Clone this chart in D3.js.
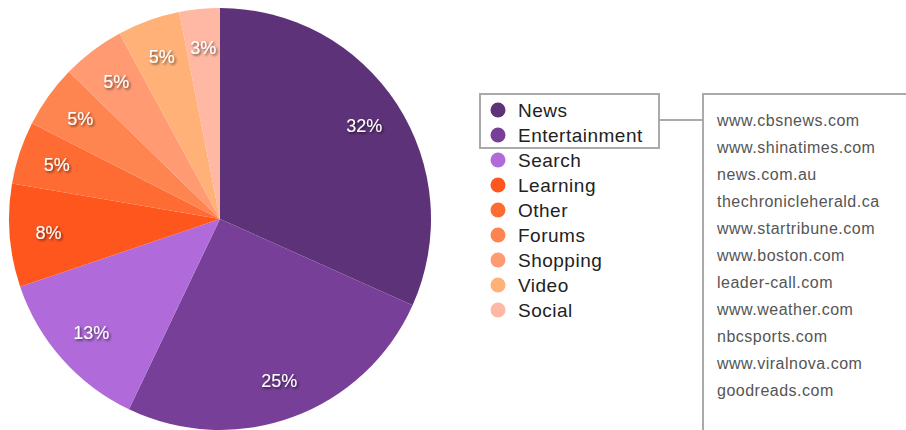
<!DOCTYPE html>
<html>
<head>
  <meta charset="utf-8">
  <title>Traffic by category</title>
  <script src="https://d3js.org/d3.v7.min.js"></script>
  <style>
    body { margin:0; background:#fff; }
    svg { display:block; }
  </style>
</head>
<body>
  <script>
    var w = 906;
    var h = 430;

    var categories = ["News","Entertainment","Search","Learning","Other","Forums","Shopping","Video","Social"];
    var shares = [31.7, 25.4, 12.7, 7.9, 4.8, 4.8, 4.8, 4.8, 3.1];
    var colors = ["#5e3278","#773f97","#b06ad9","#ff561e","#ff6c33","#ff8550","#ff9a73","#ffb178","#ffb8a3"];
    var newsSites = ["www.cbsnews.com","www.shinatimes.com","news.com.au","thechronicleherald.ca",
      "www.startribune.com","www.boston.com","leader-call.com","www.weather.com",
      "nbcsports.com","www.viralnova.com","goodreads.com"];

    var data = categories.map(function(c,i){ return {name:c, value:shares[i], color:colors[i]}; });

    var svg = d3.select("body").append("svg").attr("width",w).attr("height",h);

    var defs = svg.append("defs");
    var sh = defs.append("filter").attr("id","tshadow").attr("x","-20%").attr("y","-30%").attr("width","140%").attr("height","160%");
    sh.append("feDropShadow").attr("dx",1.5).attr("dy",1.5).attr("stdDeviation",1.2)
      .attr("flood-color","#000").attr("flood-opacity",0.6);

    //pie
    var cx = 220, cy = 219, r = 211;
    var pie = d3.pie().value(function(d){return d.value;}).sort(null);
    var arc = d3.arc().innerRadius(0).outerRadius(r);
    var labelArc = d3.arc().innerRadius(172).outerRadius(172);

    var g = svg.append("g").attr("transform","translate("+cx+","+cy+")");
    var arcs = pie(data);

    g.selectAll("path.slice")
      .data(arcs)
      .enter()
      .append("path")
      .attr("class","slice")
      .attr("d",arc)
      .attr("fill",function(d){return d.data.color;});

    g.selectAll("text.pct")
      .data(arcs)
      .enter()
      .append("text")
      .attr("class","pct")
      .attr("transform",function(d){return "translate("+labelArc.centroid(d)+")";})
      .attr("dy","0.35em")
      .attr("text-anchor","middle")
      .attr("font-family","Liberation Sans, Arial, sans-serif")
      .attr("font-size","18px")
      .attr("fill","#fff")
      .attr("filter","url(#tshadow)")
      .text(function(d){return Math.round(d.data.value)+"%";});

    //legend
    var legend = svg.append("g").attr("transform","translate(498,110)");
    var rows = legend.selectAll("g")
      .data(data)
      .enter()
      .append("g")
      .attr("transform",function(d,i){return "translate(0,"+(i*25)+")";});
    rows.append("circle").attr("r",7.5).attr("fill",function(d){return d.color;});
    rows.append("text")
      .attr("x",20)
      .attr("dy","0.36em")
      .attr("font-family","Liberation Sans, Arial, sans-serif")
      .attr("font-size","19px")
      .attr("letter-spacing","0.5px")
      .attr("fill","#222")
      .text(function(d){return d.name;});

    //highlight box around News + Entertainment
    var gray = "#aaaaaa";
    svg.append("rect")
      .attr("x",480).attr("y",94).attr("width",179).attr("height",54)
      .attr("fill","none").attr("stroke",gray).attr("stroke-width",2);
    svg.append("line")
      .attr("x1",659).attr("y1",120).attr("x2",703).attr("y2",120)
      .attr("stroke",gray).attr("stroke-width",2);
    svg.append("path")
      .attr("d","M703,"+h+"V94H"+w)
      .attr("fill","none").attr("stroke",gray).attr("stroke-width",2);

    //site list
    svg.append("g").selectAll("text")
      .data(newsSites)
      .enter()
      .append("text")
      .attr("x",717)
      .attr("y",function(d,i){return 120+i*27;})
      .attr("dy","0.36em")
      .attr("font-family","Liberation Sans, Arial, sans-serif")
      .attr("font-size","16px")
      .attr("letter-spacing","0.5px")
      .attr("fill","#555")
      .text(function(d){return d;});
  </script>
</body>
</html>
